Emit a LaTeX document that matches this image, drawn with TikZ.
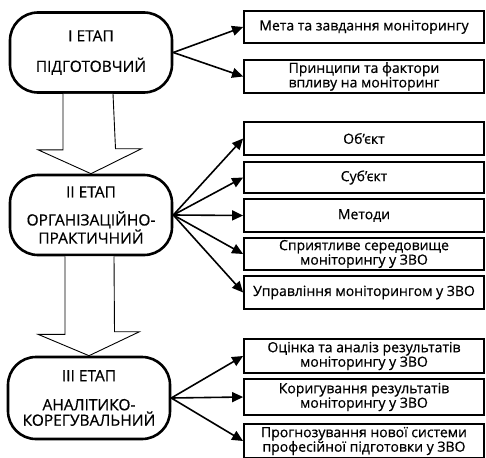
\documentclass[tikz,border=0pt]{standalone}
\usepackage{fontspec}
\setmainfont{Open Sans}
\newfontfamily\diagfont{Open Sans}[FakeBold=0.6]
\usetikzlibrary{arrows.meta}
\begin{document}
\begin{tikzpicture}[x=1pt,y=-1pt,
  stage/.style={draw,line width=2.6pt,rounded corners=28pt,align=center,inner sep=0pt,
    font=\diagfont\fontsize{15.5}{15.5}\selectfont},
  item/.style={draw,line width=1.8pt,align=center,inner sep=0pt,minimum width=240pt,
    font=\diagfont\fontsize{14}{14.5}\selectfont},
  conn/.style={line width=1.6pt,-{Triangle[length=11pt,width=10pt]}},
  blockarrow/.style={draw,line width=0.9pt,fill=white}]
\useasboundingbox (0,0) rectangle (486,457);
% stages
\node[stage,minimum width=162pt,minimum height=80pt] (s1) at (91,52.5) {І ЕТАП\\[15pt]ПІДГОТОВЧИЙ};
\node[stage,minimum width=162pt,minimum height=80pt] (s2) at (91,215) {ІІ ЕТАП\\[12.5pt]ОРГАНІЗАЦІЙНО-\\ПРАКТИЧНИЙ};
\node[stage,minimum width=162pt,minimum height=82pt] (s3) at (89,398) {ІІІ ЕТАП\\[13.5pt]АНАЛІТИКО-\\КОРЕГУВАЛЬНИЙ};
% block arrows
\draw[blockarrow] ([xshift=-28pt]s1.south) -- ++(0,56) -- ++(-25,0) -- (s2.north) -- ++(50.5,-25) -- ++(-26,0) -- ([xshift=22pt]s1.south);
\draw[blockarrow] ([xshift=-26pt]s2.south) -- ++(0,78) -- ++(-27,0) -- (s3.north) -- ++(50.5,-24) -- ++(-25,0) -- ([xshift=23pt]s2.south);
% items
\node[item,minimum height=32pt] (b1) at (364,27) {Мета та завдання моніторингу};
\node[item,minimum height=33pt] (b2) at (364,76.5) {Принципи та фактори\\впливу на моніторинг};
\node[item,minimum height=33pt] (b3) at (364,138.5) {Об’єкт};
\node[item,minimum height=31pt] (b4) at (364,177.5) {Суб’єкт};
\node[item,minimum height=33pt] (b5) at (364,215.5) {Методи};
\node[item,minimum height=32pt] (b6) at (364,254) {Сприятливе середовище\\моніторингу у ЗВО};
\node[item,minimum height=33pt] (b7) at (364,292.5) {Управління моніторингом у ЗВО};
\node[item,minimum height=34pt] (b8) at (364,356) {Оцінка та аналіз результатів\\моніторингу у ЗВО};
\node[item,minimum height=36pt] (b9) at (364,397) {Коригування результатів\\моніторингу у ЗВО};
\node[item,minimum height=34pt] (b10) at (364,441) {Прогнозування нової системи\\професійної підготовки у ЗВО};
% connectors
\foreach \b in {b1,b2}{\draw[conn] (s1.east) -- (\b.west);}
\foreach \b in {b3,b4,b5,b6,b7}{\draw[conn] (s2.east) -- (\b.west);}
\foreach \b in {b8,b9,b10}{\draw[conn] (s3.east) -- (\b.west);}
\end{tikzpicture}
\end{document}
